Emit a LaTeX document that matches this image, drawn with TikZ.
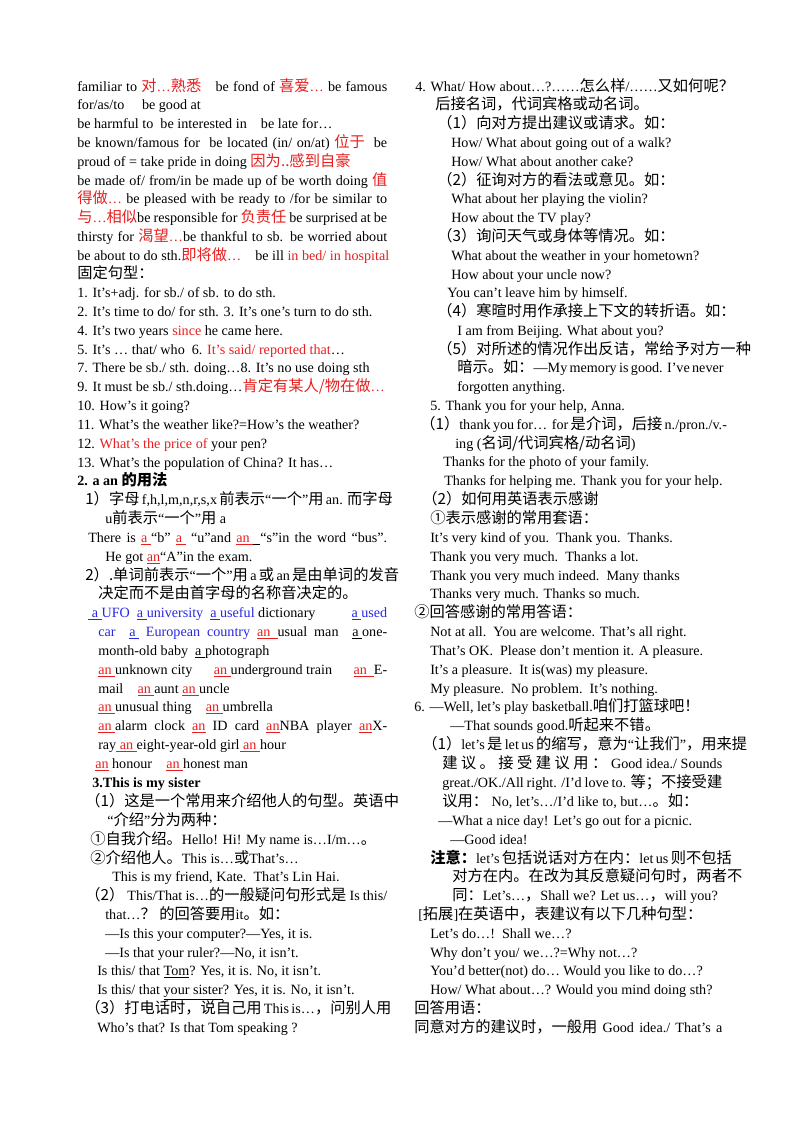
\documentclass[tikz,border=0pt]{standalone}
\usepackage{fontspec}
\setmainfont{Liberation Serif}
\newfontfamily\cjk{Noto Sans CJK SC}[Scale=1.08]
\definecolor{cred}{RGB}{232,30,30}
\definecolor{cblue}{RGB}{40,40,225}
\newdimen\pxu \pxu=0.75pt
\newcommand\C[1]{{\cjk #1}}
\newcommand\R[1]{\textcolor{cred}{#1}}
\newcommand\B[1]{\textcolor{cblue}{#1}}
\newcommand\U[1]{\underline{#1}}
\newcommand\RU[1]{\textcolor{cred}{\underline{#1}}}
\newcommand\BU[1]{\textcolor{cblue}{\underline{#1}}}
\newcommand\J[2]{\makebox[#1\pxu][s]{#2}}
\tikzset{ln/.style={anchor=base west,inner sep=0pt,font=\fontsize{10.6}{14}\selectfont}}
\begin{document}
\begin{tikzpicture}[x=0.75pt,y=-0.75pt]
\fill[white] (0,0) rectangle (800,1132);
\useasboundingbox (0,0) rectangle (800,1132);
% left column
\node[ln] (a1) at (77,91) {\J{310}{familiar to \R{\C{对}…\C{熟悉}}\quad be fond of \R{\C{喜爱}…} be famous}};
\node[ln] (a2) at (77,109) {for/as/to\quad\ be good at};
\node[ln] (a3) at (77,128) {be harmful to\ \ be interested in\quad be late for…};
\node[ln] (a4) at (77,147) {\J{310}{be known/famous for \ be located (in/ on/at) \R{\C{位于}} \ be}};
\node[ln] (a5) at (77,166) {proud of = take pride in doing \R{\C{因为..感到自豪}}};
\node[ln] (a6) at (77,185) {\J{310}{be made of/ from/in be made up of be worth doing \R{\C{值}}}};
\node[ln] (a7) at (77,203) {\J{310}{\R{\C{得做}…} be pleased with be ready to /for be similar to}};
\node[ln] (a8) at (77,222) {\J{310}{\R{\C{与}…\C{相似}}be responsible for \R{\C{负责任}} be surprised at be}};
\node[ln] (a9) at (77,241) {\J{310}{thirsty for \R{\C{渴望}…}be thankful to sb. be worried about}};
\node[ln] (a10) at (77,260) {be about to do sth.\R{\C{即将做}…}\quad be ill \R{in bed/ in hospital}};
\node[ln] (a11) at (77,278) {\C{固定句型：}};
\node[ln] (a12) at (77,297) {1. It’s+adj. for sb./ of sb. to do sth.};
\node[ln] (a13) at (77,316) {2. It’s time to do/ for sth. 3. It’s one’s turn to do sth.};
\node[ln] (a14) at (77,335) {4. It’s two years \R{since} he came here.};
\node[ln] (a15) at (77,354) {5. It’s … that/ who\ \ 6. \R{It’s said/ reported that}…};
\node[ln] (a16) at (77,372) {7. There be sb./ sth. doing…8. It’s no use doing sth};
\node[ln] (a17) at (77,391) {9. It must be sb./ sth.doing…\R{\C{肯定有某人/物在做}…}};
\node[ln] (a18) at (77,410) {10. How’s it going?};
\node[ln] (a19) at (77,429) {11. What’s the weather like?=How’s the weather?};
\node[ln] (a20) at (77,448) {12. \R{What’s the price of} your pen?};
\node[ln] (a21) at (77,467) {13. What’s the population of China? It has…};
\node[ln] (a22) at (77,485) {\textbf{2. a an \C{\bfseries 的用法}}};
\node[ln] (a23) at (85,504) {\J{302}{\C{1）字母} f,h,l,m,n,r,s,x \C{前表示}“\C{一个}”\C{用} an. \C{而字母}}};
\node[ln] (a24) at (105,523) {u\C{前表示}“\C{一个}”\C{用} a};
\node[ln] (a25) at (88,542) {\J{299}{There is \RU{a\ }“b” \RU{a\ } “u”and \RU{an\ }\U{\ \ }“s”in the word “bus”.}};
\node[ln] (a26) at (105,561) {He got \RU{an}“A”in the exam.};
\node[ln] (a27) at (85,580) {\J{302}{\C{2）.单词前表示}“\C{一个}”\C{用} a \C{或} an \C{是由单词的发音}}};
\node[ln] (a28) at (98,598) {\C{决定而不是由首字母的名称音决定的。}};
\node[ln] (a29) at (88,617) {\J{299}{\BU{\ a\ }\B{UFO\ \ \U{a\ }university\ \ \U{a\ }useful} dictionary\hfill\B{\U{a\ }used}}};
\node[ln] (a30) at (98,636) {\J{289}{\B{car \ \U{a\ } European country} \RU{an\ \ }usual man \ \U{a\ }one-}};
\node[ln] (a31) at (98,655) {month-old baby \ \U{a\ }photograph};
\node[ln] (a32) at (98,674) {\J{289}{\RU{an\ }unknown city\hfill\RU{an\ }underground train\hfill\RU{an\ \ }E-}};
\node[ln] (a33) at (98,693) {mail\quad\RU{an\ }aunt \RU{an\ }uncle};
\node[ln] (a34) at (98,711) {\RU{an\ }unusual thing\quad\RU{an\ }umbrella};
\node[ln] (a35) at (98,730) {\J{289}{\RU{an\ }alarm clock \RU{an} ID card \RU{an}NBA player \RU{an}X-}};
\node[ln] (a36) at (98,749) {ray\RU{\ an\ }eight-year-old girl\RU{\ an\ }hour};
\node[ln] (a37) at (95,768) {\RU{an} honour\quad\RU{an\ }honest man};
\node[ln] (a38) at (92,787) {\textbf{3.This is my sister}};
\node[ln] (a39) at (85,806) {\J{302}{\C{（1）这是一个常用来介绍他人的句型。英语中}}};
\node[ln] (a40) at (107,825) {“\C{介绍}”\C{分为两种：}};
\node[ln] (a41) at (90,844) {\C{①自我介绍。}Hello! Hi! My name is…I/m…\C{。}};
\node[ln] (a42) at (90,863) {\C{②介绍他人。}This is…\C{或}That’s…};
\node[ln] (a43) at (112,881) {This is my friend, Kate.\ \ That’s Lin Hai.};
\node[ln] (a44) at (85,900) {\J{302}{\C{（2）} This/That is…\C{的一般疑问句形式是} Is this/}};
\node[ln] (a45) at (105,919) {that…\C{？} \C{的回答要用}it\C{。如：}};
\node[ln] (a46) at (105,938) {—Is this your computer?—Yes, it is.};
\node[ln] (a47) at (105,957) {—Is that your ruler?—No, it isn’t.};
\node[ln] (a48) at (97,975) {Is this/ that \U{Tom}? Yes, it is. No, it isn’t.};
\node[ln] (a49) at (97,994) {Is this/ that \U{your sister}? Yes, it is. No, it isn’t.};
\node[ln] (a50) at (85,1013) {\J{302}{\C{（3）打电话时，说自己用} This is…\C{，问别人用}}};
\node[ln] (a51) at (97,1032) {Who’s that? Is that Tom speaking ?};
% right column
\node[ln] (b1) at (415,91) {4. What/ How about…?……\C{怎么样}/……\C{又如何呢？}};
\node[ln] (b2) at (435,109) {\C{后接名词，代词宾格或动名词。}};
\node[ln] (b3) at (437,128) {\C{（1）向对方提出建议或请求。如：}};
\node[ln] (b4) at (451,147) {How/ What about going out of a walk?};
\node[ln] (b5) at (451,166) {How/ What about another cake?};
\node[ln] (b6) at (437,185) {\C{（2）征询对方的看法或意见。如：}};
\node[ln] (b7) at (451,203) {What about her playing the violin?};
\node[ln] (b8) at (451,222) {How about the TV play?};
\node[ln] (b9) at (437,241) {\C{（3）询问天气或身体等情况。如：}};
\node[ln] (b10) at (451,260) {What about the weather in your hometown?};
\node[ln] (b11) at (451,279) {How about your uncle now?};
\node[ln] (b12) at (447,297) {You can’t leave him by himself.};
\node[ln] (b13) at (437,316) {\C{（4）寒暄时用作承接上下文的转折语。如：}};
\node[ln] (b14) at (457,335) {I am from Beijing. What about you?};
\node[ln] (b15) at (437,354) {\J{285}{\C{（5）对所述的情况作出反诘，常给予对方一种}}};
\node[ln] (b16) at (457,372) {\J{265}{\C{暗示。如：}—My memory is good. I’ve never}};
\node[ln] (b17) at (457,391) {forgotten anything.};
\node[ln] (b18) at (430,410) {5. Thank you for your help, Anna.};
\node[ln] (b19) at (420,429) {\J{302}{\C{（1）}thank you for… \ for \C{是介词，后接} n./pron./v.-}};
\node[ln] (b20) at (455,448) {ing (\C{名词/代词宾格/动名词})};
\node[ln] (b21) at (443,466) {Thanks for the photo of your family.};
\node[ln] (b22) at (444,485) {Thanks for helping me. Thank you for your help.};
\node[ln] (b23) at (422,504) {\C{（2）如何用英语表示感谢}};
\node[ln] (b24) at (430,523) {\C{①表示感谢的常用套语：}};
\node[ln] (b25) at (430,542) {It’s very kind of you.\ \ Thank you.\ \ Thanks.};
\node[ln] (b26) at (430,561) {Thank you very much.\ \ Thanks a lot.};
\node[ln] (b27) at (430,580) {Thank you very much indeed.\ \ Many thanks};
\node[ln] (b28) at (430,598) {Thanks very much. Thanks so much.};
\node[ln] (b29) at (414,617) {\C{②回答感谢的常用答语：}};
\node[ln] (b30) at (430,636) {Not at all.\ \ You are welcome. That’s all right.};
\node[ln] (b31) at (430,655) {That’s OK.\ \ Please don’t mention it. A pleasure.};
\node[ln] (b32) at (430,674) {It’s a pleasure.\ \ It is(was) my pleasure.};
\node[ln] (b33) at (430,693) {My pleasure.\ \ No problem.\ \ It’s nothing.};
\node[ln] (b34) at (414,711) {6. —Well, let’s play basketball.\C{咱们打篮球吧！}};
\node[ln] (b35) at (450,730) {—That sounds good.\C{听起来不错。}};
\node[ln] (b36) at (422,749) {\J{300}{\C{（1）}let’s \C{是} let us \C{的缩写，意为}“\C{让我们}”\C{，用来提}}};
\node[ln] (b37) at (442,768) {\J{280}{\C{建\ 议\ 。\ 接\ 受\ 建\ 议\ 用\ ：} Good idea./ Sounds}};
\node[ln] (b38) at (442,787) {\J{280}{great./OK./All right. /I’d love to. \C{等；不接受建}}};
\node[ln] (b39) at (442,806) {\C{议用：} No, let’s…/I’d like to, but…\C{。如：}};
\node[ln] (b40) at (438,825) {—What a nice day! Let’s go out for a picnic.};
\node[ln] (b41) at (450,844) {—Good idea!};
\node[ln] (b42) at (430,863) {\J{292}{\C{\bfseries 注意：}let’s \C{包括说话对方在内：}let us \C{则不包括}}};
\node[ln] (b43) at (452,881) {\J{270}{\C{对方在内。在改为其反意疑问句时，两者不}}};
\node[ln] (b44) at (452,900) {\C{同：}Let’s…\C{，}Shall we? Let us…\C{，}will you?};
\node[ln] (b45) at (418,919) {[\C{拓展}]\C{在英语中，表建议有以下几种句型：}};
\node[ln] (b46) at (430,938) {Let’s do…!\ \ Shall we…?};
\node[ln] (b47) at (430,957) {Why don’t you/ we…?=Why not…?};
\node[ln] (b48) at (430,975) {You’d better(not) do… Would you like to do…?};
\node[ln] (b49) at (430,994) {How/ What about…? Would you mind doing sth?};
\node[ln] (b50) at (414,1013) {\C{回答用语：}};
\node[ln] (b51) at (414,1032) {\J{308}{\C{同意对方的建议时，一般用} Good idea./ That’s a}};
\end{tikzpicture}
\end{document}
